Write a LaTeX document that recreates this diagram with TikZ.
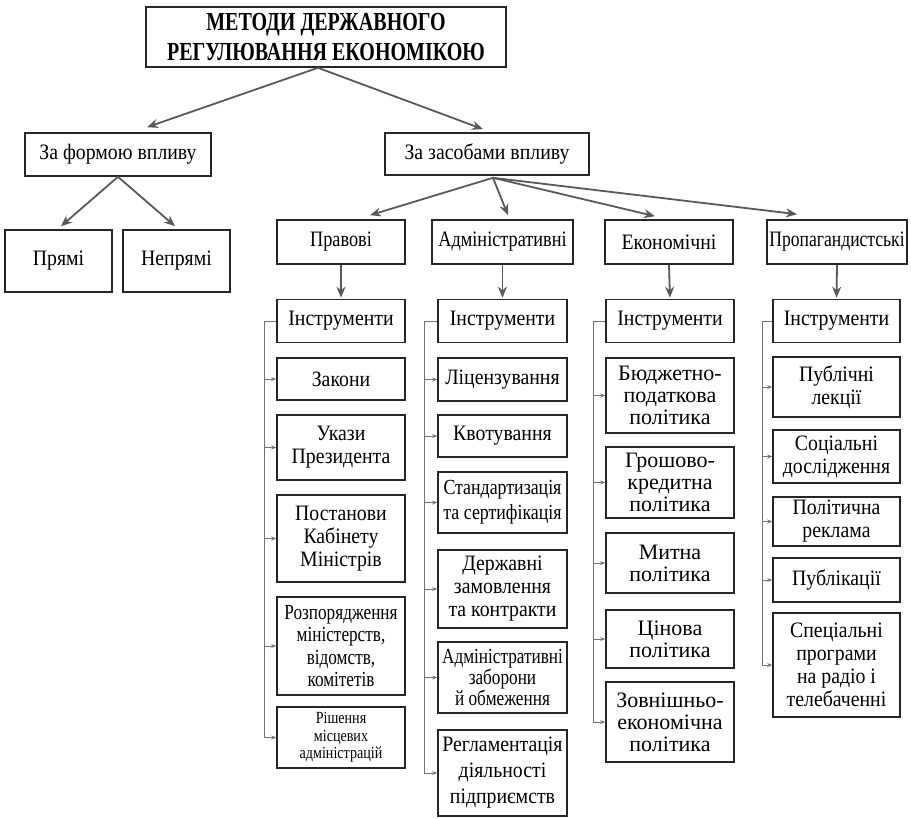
\documentclass[tikz,border=0pt]{standalone}
\usepackage{fontspec}
\setmainfont{Liberation Serif}
\newfontfamily\fN[FakeStretch=0.90]{Liberation Serif}
\newfontfamily\fW[FakeStretch=1.00]{Liberation Serif}
\newfontfamily\fC[FakeStretch=0.83]{Liberation Serif}
\newfontfamily\fD[FakeStretch=0.80]{Liberation Serif}
\newfontfamily\fT[FakeStretch=0.77]{Liberation Serif}
\usetikzlibrary{arrows.meta,calc}
\begin{document}
\begin{tikzpicture}[x=1pt,y=-1pt,
 box/.style={draw=black!85, line width=1.6pt, align=center, inner sep=0pt, font={\fN\fontsize{22}{23}\selectfont}},
 cbox/.style={box, minimum width=128pt},
 wide/.style={font={\fW\fontsize{22}{22}\selectfont}},
 cond/.style={font={\fC\fontsize{22}{23}\selectfont}},
 tight/.style={font={\fD\fontsize{22}{23}\selectfont}},
 conn/.style={draw=black!65, line width=1.8pt, -{Stealth[length=11pt,width=9pt]}},
 bline/.style={draw=black!55, line width=1pt},
 barrow/.style={draw=black!55, line width=1pt, -{Stealth[length=5pt,width=4pt]}},
]
\useasboundingbox (0,0) rectangle (911,819);

% top levels
\node[box, font={\fT\bfseries\fontsize{26}{30}\selectfont}, minimum width=360pt, minimum height=60pt] (title) at (326,37) {МЕТОДИ ДЕРЖАВНОГО\\РЕГУЛЮВАННЯ ЕКОНОМІКОЮ};
\node[box, minimum width=186pt, minimum height=43pt] (forma) at (118,154.5) {За формою впливу};
\node[box, minimum width=204pt, minimum height=42pt] (zasob) at (487,154) {За засобами впливу};
\node[box, minimum width=107pt, minimum height=62pt] (pryami) at (58.5,261) {Прямі};
\node[box, minimum width=107pt, minimum height=62pt] (nepryami) at (176.5,261) {Непрямі};

% categories
\node[box, cond, minimum width=128pt, minimum height=44pt] (prav) at (341,242) {Правові};
\node[box, cond, minimum width=141pt, minimum height=44pt] (adm) at (502.5,242) {Адміністративні};
\node[box, minimum width=128pt, minimum height=44pt] (ekon) at (669,242) {Економічні};
\node[box, tight, minimum width=140pt, minimum height=44pt] (prop) at (837,242) {Пропагандистські};

% instruments
\node[cbox, minimum height=43pt] (i1) at (341,321) {Інструменти};
\node[cbox, minimum width=129pt, minimum height=43pt] (i2) at (502.5,321) {Інструменти};
\node[cbox, minimum height=43pt] (i3) at (670,321) {Інструменти};
\node[cbox, minimum width=127pt, minimum height=43pt] (i4) at (836.5,321) {Інструменти};

% column 1
\node[cbox, minimum height=42pt] (a1) at (341,379) {Закони};
\node[cbox, minimum height=65pt] (a2) at (341,447.5) {Укази\\Президента};
\node[cbox, minimum height=87pt] (a3) at (341,538.5) {Постанови\\Кабінету\\Міністрів};
\node[cbox, minimum height=98pt, font={\fD\fontsize{21.5}{22.5}\selectfont}] (a4) at (341,646) {Розпорядження\\міністерств,\\відомств,\\комітетів};
\node[cbox, minimum height=61pt, font={\fC\fontsize{17}{17.5}\selectfont}] (a5) at (341,737.5) {Рішення\\місцевих\\адміністрацій};

% column 2
\node[cbox, minimum width=129pt, minimum height=43pt] (b1) at (502.5,379.5) {Ліцензування};
\node[cbox, minimum width=129pt, minimum height=42pt] (b2) at (502.5,436) {Квотування};
\node[cbox, minimum width=129pt, minimum height=61pt, font={\fC\fontsize{21.5}{25}\selectfont}] (b3) at (502.5,502.5) {Стандартизація\\та сертифікація};
\node[cbox, minimum width=129pt, minimum height=78pt] (b4) at (502.5,589) {Державні\\замовлення\\та контракти};
\node[cbox, minimum width=129pt, minimum height=71pt, font={\fD\fontsize{21.5}{21}\selectfont}] (b5) at (502.5,677.5) {Адміністративні\\заборони\\й обмеження};
\node[cbox, minimum width=129pt, minimum height=86pt, font={\fN\fontsize{22}{26}\selectfont}] (b6) at (502.5,773) {Регламентація\\діяльності\\підприємств};

% column 3
\node[cbox, wide, minimum height=75pt] (c1) at (670,395.5) {Бюджетно-\\податкова\\політика};
\node[cbox, wide, minimum height=71pt] (c2) at (670,482.5) {Грошово-\\кредитна\\політика};
\node[cbox, wide, minimum height=60pt] (c3) at (670,563) {Митна\\політика};
\node[cbox, wide, minimum height=58pt] (c4) at (670,639) {Цінова\\політика};
\node[cbox, wide, minimum height=80pt] (c5) at (670,722) {Зовнішньо-\\економічна\\політика};

% column 4
\node[cbox, minimum width=127pt, minimum height=60pt] (d1) at (836.5,387) {Публічні\\лекції};
\node[cbox, minimum width=127pt, minimum height=53pt] (d2) at (836.5,456.5) {Соціальні\\дослідження};
\node[cbox, minimum width=127pt, minimum height=49pt] (d3) at (836.5,521.5) {Політична\\реклама};
\node[cbox, minimum width=127pt, minimum height=44pt] (d4) at (836.5,580) {Публікації};
\node[cbox, minimum width=127pt, minimum height=104pt] (d5) at (836.5,665) {Спеціальні\\програми\\на радіо і\\телебаченні};

% main connectors
\coordinate (t0) at ($(title.south)+(-8,0)$);
\coordinate (z0) at ($(zasob.south)+(6,2)$);
\draw[conn] (t0) -- ($(forma.north)+(29,-5)$);
\draw[conn] (t0) -- ($(zasob.north)+(-4,-3)$);
\draw[conn] (forma.south) -- ($(pryami.north)+(2.5,-3)$);
\draw[conn] (forma.south) -- ($(nepryami.north)+(-1.5,-3)$);
\draw[conn] (z0) -- ($(prav.north)+(29,-4)$);
\draw[conn] (z0) -- ($(adm.north)+(5.5,-4)$);
\draw[conn] (z0) -- ($(ekon.north)+(-14,-3)$);
\draw[conn] (z0) -- ($(prop.north)+(-40,-5)$);
\draw[conn, shorten >=1pt] (prav.south) -- (i1.north);
\draw[conn, shorten >=1pt] (adm.south) -- (i2.north);
\draw[conn, shorten >=1pt] (ekon.south) -- (i3.north);
\draw[conn, shorten >=1pt] (prop.south) -- (i4.north);

% brackets
\coordinate (k1) at (264,0);
\coordinate (k2) at (424,0);
\coordinate (k3) at (593,0);
\coordinate (k4) at (762,0);
\draw[bline] (i1.west) -- (i1.west -| k1) -- (a5.west -| k1);
\draw[bline] (i2.west) -- (i2.west -| k2) -- (b6.west -| k2);
\draw[bline] (i3.west) -- (i3.west -| k3) -- (c5.west -| k3);
\draw[bline] (i4.west) -- (i4.west -| k4) -- (d5.west -| k4);
\foreach \n in {a1,a2,a3,a4,a5} \draw[barrow] (\n.west -| k1) -- (\n.west);
\foreach \n in {b1,b2,b3,b4,b5,b6} \draw[barrow] (\n.west -| k2) -- (\n.west);
\foreach \n in {c1,c2,c3,c4,c5} \draw[barrow] (\n.west -| k3) -- (\n.west);
\foreach \n in {d1,d2,d3,d4,d5} \draw[barrow] (\n.west -| k4) -- (\n.west);
\end{tikzpicture}
\end{document}
